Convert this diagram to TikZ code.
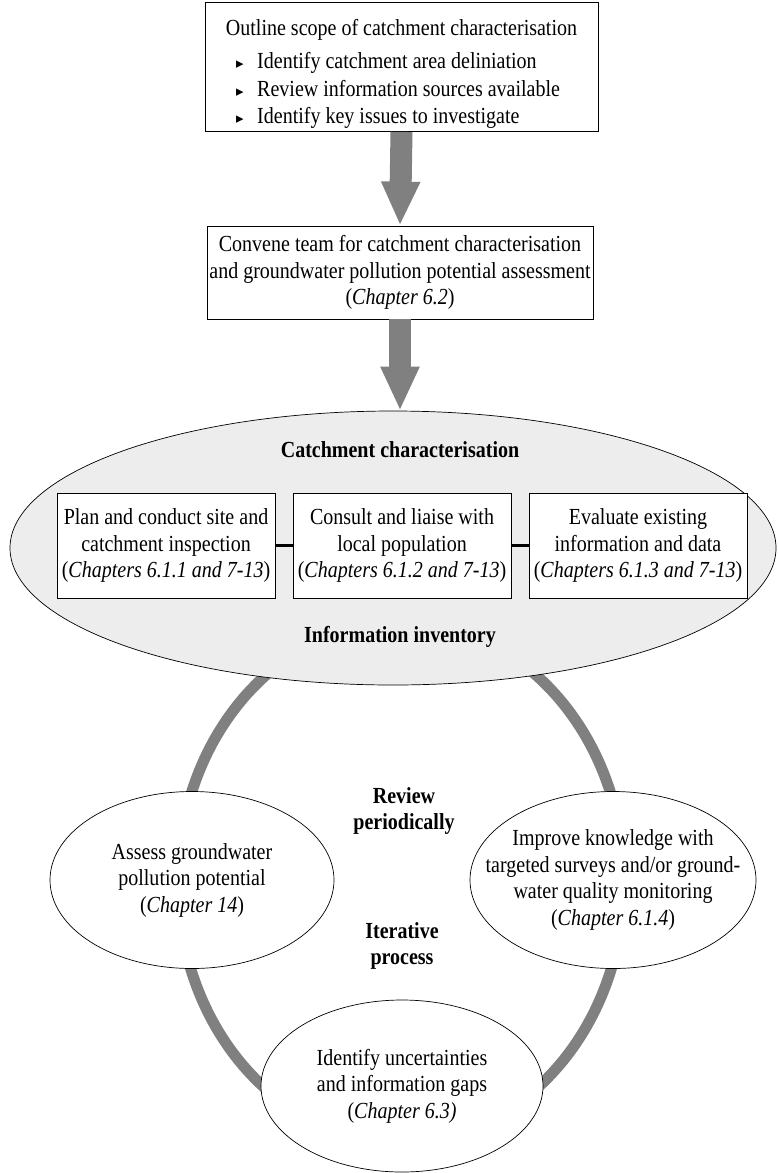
\documentclass[tikz,border=0pt]{standalone}
\usepackage{fontspec}
\setmainfont{Liberation Serif}[FakeStretch=0.87]
\newfontfamily\symfont{DejaVu Sans}
\usetikzlibrary{shapes.geometric,arrows.meta}
\definecolor{arrowgray}{HTML}{808080}
\definecolor{ellgray}{HTML}{EDEDED}
\tikzset{
  box/.style={draw=black, line width=0.8pt, fill=white, inner sep=0pt},
  txt/.style={inner sep=0pt, align=center, font=\fontsize{23pt}{26.5pt}\selectfont},
  btxt/.style={inner sep=0pt, align=center, font=\fontsize{23pt}{26.5pt}\selectfont\bfseries},
  ltxt/.style={inner sep=0pt, anchor=west, text height=16pt, text depth=5pt, font=\fontsize{23pt}{26.5pt}\selectfont},
  bigarrow/.style={arrowgray, line width=22pt, -{Triangle[width=36pt,length=44pt]}},
  oval/.style={draw=black, line width=0.7pt, ellipse, inner sep=0pt},
  link/.style={black, line width=3.5pt},
  ring/.style={arrowgray, line width=11pt}
}
\newcommand{\bulletmark}{{\symfont\fontsize{15pt}{15pt}\selectfont ▸}}
\begin{document}
\begin{tikzpicture}[x=1pt,y=-1pt]
\useasboundingbox (0,0) rectangle (778,1173);
\fill[white] (0,0) rectangle (778,1173);

% ring behind the loop
\coordinate (ringc) at (401,882);
\draw[ring] (ringc) ellipse [x radius=223pt, y radius=260pt];

% top box
\node[box, minimum width=393pt, minimum height=129pt] (outline) at (401.5,67) {};
\node[txt] (outlinet) at (401.5,30) {Outline scope of catchment characterisation};
\node[ltxt] (m1) at (236,63) {\bulletmark};
\node[ltxt] (b1) at (257,63) {Identify catchment area deliniation};
\node[ltxt] (m2) at (236,91) {\bulletmark};
\node[ltxt] (b2) at (257,91) {Review information sources available};
\node[ltxt] (m3) at (236,118) {\bulletmark};
\node[ltxt] (b3) at (257,118) {Identify key issues to investigate};

% second box
\node[box, txt, minimum width=386pt, minimum height=93pt] (convene) at (400,272.5)
  {Convene team for catchment characterisation\\and groundwater pollution potential assessment\\(\textit{Chapter 6.2})};

% big ellipse
\node[oval, fill=ellgray, minimum width=766pt, minimum height=274pt] (inventory) at (393,548) {};
\node[btxt] (cc) at (400,450) {Catchment characterisation};
\node[btxt] (ii) at (400,637) {Information inventory};

\node[box, txt, minimum width=218pt, minimum height=105pt] (plan) at (166,545.5)
  {Plan and conduct site and\\catchment inspection\\(\textit{Chapters 6.1.1 and 7-13})};
\node[box, txt, minimum width=218pt, minimum height=105pt] (consult) at (402,545.5)
  {Consult and liaise with\\local population\\(\textit{Chapters 6.1.2 and 7-13})};
\node[box, txt, minimum width=218pt, minimum height=105pt] (evaluate) at (638,545.5)
  {Evaluate existing\\information and data\\(\textit{Chapters 6.1.3 and 7-13})};
\draw[link] (plan.east) -- (consult.west);
\draw[link] (consult.east) -- (evaluate.west);

% arrows
\draw[bigarrow] (outline.south) -- (convene.north);
\draw[bigarrow] (convene.south) -- (convene.south |- inventory.north);

% loop ellipses
\node[oval, fill=white, minimum width=284pt, minimum height=177pt] (assess) at (192,880) {};
\node[txt] (assesst) at (assess) {Assess groundwater\\pollution potential\\(\textit{Chapter 14})};
\node[oval, fill=white, minimum width=286pt, minimum height=177pt] (improve) at (613,880) {};
\node[txt] (improvet) at (improve) {Improve knowledge with\\targeted surveys and/or ground-\\water quality monitoring\\(\textit{Chapter 6.1.4})};
\node[oval, fill=white, minimum width=282pt, minimum height=172pt] (gaps) at (402,1086) {};
\node[txt] (gapst) at (gaps) {Identify uncertainties\\and information gaps\\(\textit{Chapter 6.3)}};

\node[btxt] (review) at (404,811) {Review\\periodically};
\node[btxt] (iter) at (402,946) {Iterative\\process};
\end{tikzpicture}
\end{document}
